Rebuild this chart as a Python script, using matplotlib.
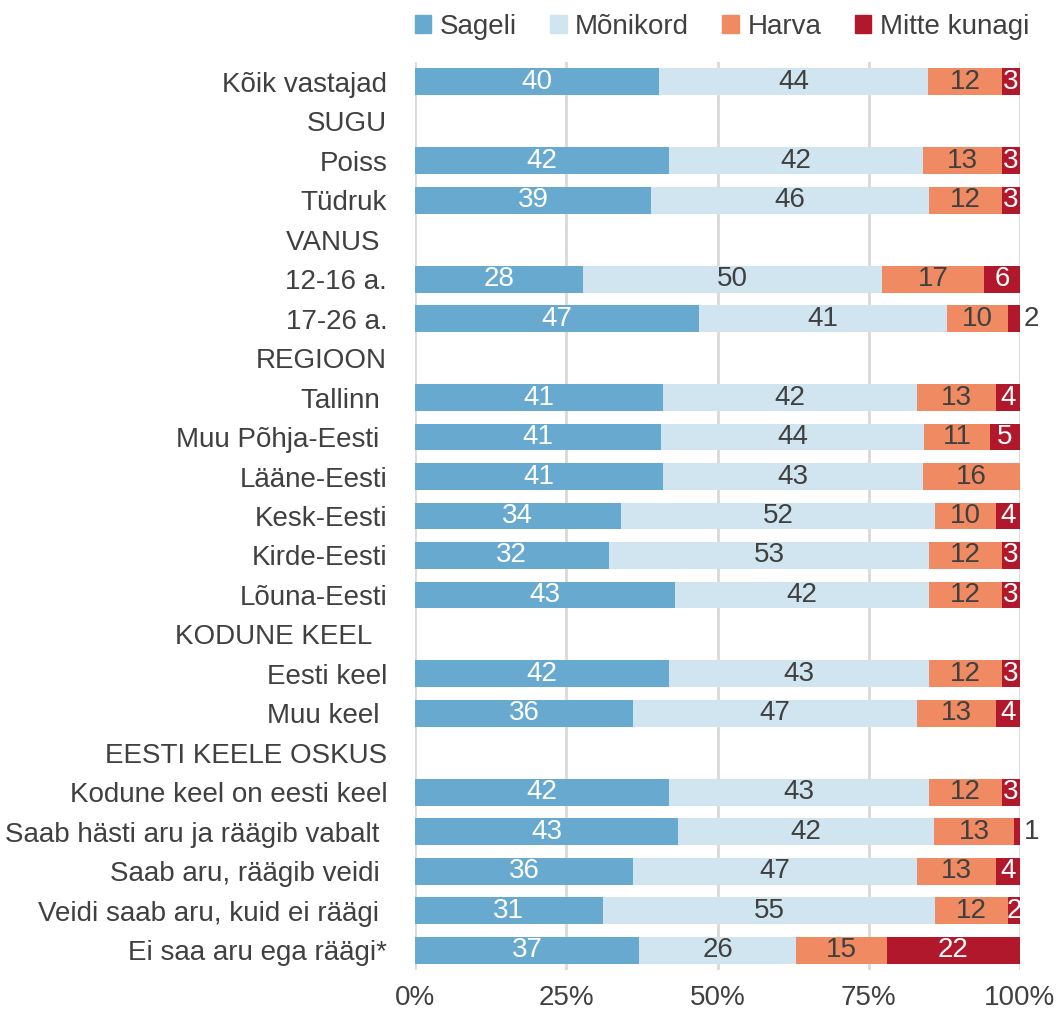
import matplotlib
matplotlib.use("Agg")
import matplotlib.pyplot as plt
import numpy as np

plt.rcParams['font.family'] = ['Liberation Sans', 'DejaVu Sans']

categories = ["Kõik vastajad", "SUGU", "Poiss", "Tüdruk", "VANUS ", "12-16 a.", "17-26 a.",
              "REGIOON", "Tallinn ", "Muu Põhja-Eesti ", "Lääne-Eesti", "Kesk-Eesti", "Kirde-Eesti",
              "Lõuna-Eesti", "KODUNE KEEL  ", "Eesti keel", "Muu keel ", "EESTI KEELE OSKUS",
              "Kodune keel on eesti keel", "Saab hästi aru ja räägib vabalt ", "Saab aru, räägib veidi ",
              "Veidi saab aru, kuid ei räägi ", "Ei saa aru ega räägi*"]

series_names = ["Sageli", "Mõnikord", "Harva", "Mitte kunagi"]

sageli      = [40, None, 42, 39, None, 28, 47, None, 41, 41, 41, 34, 32, 43, None, 42, 36, None, 42, 43, 36, 31, 37]
monikord    = [44, None, 42, 46, None, 50, 41, None, 42, 44, 43, 52, 53, 42, None, 43, 47, None, 43, 42, 47, 55, 26]
harva       = [12, None, 13, 12, None, 17, 10, None, 13, 11, 16, 10, 12, 12, None, 12, 13, None, 12, 13, 13, 12, 15]
mitte       = [3,  None, 3,  3,  None, 6,  2,  None, 4,  5,  0,  4,  3,  3,  None, 3,  4,  None, 3,  1,  4,  2,  22]

# rows whose "Mitte kunagi" label sits outside the bar
outside_rows = ["17-26 a.", "Saab hästi aru ja räägib vabalt "]

colors = ["#67a9cf", "#d1e5f0", "#ef8a62", "#b2182b"]
label_colors = ["white", "#404040", "#404040", "white"]
txt = "#404040"

fig = plt.figure(figsize=(10.6, 10.14), dpi=100)
ax = fig.add_axes([415/1060, 1-970/1014, 605/1060, (970-62)/1014])

data = [sageli, monikord, harva, mitte]
n = len(categories)
y = np.arange(n)
fs = 20

for i in range(n):
    if sageli[i] is None:
        continue
    vals = [d[i] for d in data]
    total = sum(vals)
    left = 0.0
    for k, v in enumerate(vals):
        w = v / total * 100
        if v > 0:
            ax.barh(y[i], w, left=left, height=0.68, color=colors[k], edgecolor='none', zorder=3)
            if k == 3 and categories[i] in outside_rows:
                ax.text(100.6, y[i], str(v), ha='left', va='center', fontsize=fs, color=txt, zorder=4)
            else:
                ax.text(left + w/2, y[i], str(v), ha='center', va='center', fontsize=fs,
                        color=label_colors[k], zorder=4)
        left += w

ax.set_xlim(0, 100)
ax.set_ylim(n - 0.5, -0.5)
ax.set_xticks([0, 25, 50, 75, 100])
ax.set_xticklabels(["0%", "25%", "50%", "75%", "100%"], fontsize=fs, color=txt)
ax.set_yticks(y)
ax.set_yticklabels(categories, fontsize=fs, color=txt)
ax.tick_params(length=0)
ax.tick_params(axis='x', pad=11)
ax.tick_params(axis='y', pad=20)
ax.grid(axis='x', color='#d9d9d9', linewidth=2, zorder=0)
for s in ax.spines.values():
    s.set_visible(False)

handles = [plt.Rectangle((0, 0), 1, 1, color=c) for c in colors]
fig.legend(handles, series_names, loc='center', bbox_to_anchor=(0.681, 1-27/1014), ncol=4,
           frameon=False, fontsize=fs, handlelength=0.6, handleheight=0.6, handletextpad=0.3,
           columnspacing=1.2, labelcolor=txt)

fig.savefig("out.png", dpi=100)
